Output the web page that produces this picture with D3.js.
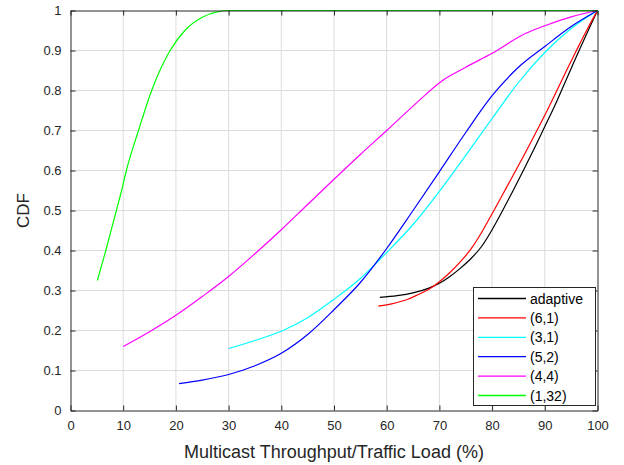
<!DOCTYPE html>
<html><head><meta charset="utf-8">
<script src="https://cdn.jsdelivr.net/npm/d3@7"></script>
<style>body{margin:0;background:#fff}svg{display:block}text{font-family:"Liberation Sans",Arial,sans-serif}</style>
</head><body><svg id="c" width="624" height="465"></svg>
<script>
const xTicks = [0,10,20,30,40,50,60,70,80,90,100];
const yTicks = [0,0.1,0.2,0.3,0.4,0.5,0.6,0.7,0.8,0.9,1];
const seriesNames = ["adaptive","(6,1)","(3,1)","(5,2)","(4,4)","(1,32)"];
const seriesColors = ["#000000","#ff0000","#00ffff","#0000ff","#ff00ff","#00ff00"];
const adaptiveX = [58.7,62,65,68,70,72,74,76,78,80,82,84,86,88,90,92,94,96,98,100];
const adaptiveY = [0.283,0.287,0.294,0.306,0.318,0.335,0.356,0.38,0.41,0.452,0.5,0.55,0.602,0.655,0.71,0.765,0.825,0.885,0.943,1];
const s61X = [58.4,60,62,64,66,68,70,72,74,76,78,80,82,84,86,88,90,92,94,96,98,100];
const s61Y = [0.261,0.264,0.27,0.278,0.29,0.303,0.322,0.345,0.372,0.404,0.445,0.492,0.54,0.588,0.637,0.687,0.738,0.792,0.847,0.9,0.952,1];
const s31X = [30,35,40,45,50,55,60,65,70,75,80,85,90,95,100];
const s31Y = [0.155,0.175,0.198,0.232,0.278,0.33,0.395,0.465,0.548,0.638,0.73,0.82,0.895,0.955,1];
const s52X = [20.6,25,30,35,40,45,50,55,60,65,70,75,80,85,90,95,100];
const s52Y = [0.067,0.076,0.09,0.112,0.143,0.19,0.252,0.32,0.405,0.5,0.597,0.695,0.787,0.858,0.91,0.96,1];
const s44X = [10,15,20,25,30,35,40,45,50,55,60,65,70.6,75,80,86.4,90,95,100];
const s44Y = [0.16,0.197,0.238,0.285,0.335,0.392,0.452,0.515,0.578,0.64,0.70,0.761,0.825,0.858,0.893,0.943,0.962,0.984,1];
const s132X = [5.1,6.7,8.7,9.7,10.6,12.9,15.4,18.9,21.7,25,28,30,100];
const s132Y = [0.325,0.4,0.5,0.55,0.6,0.7,0.8,0.9,0.95,0.983,0.997,1,1];
const seriesX = [adaptiveX,s61X,s31X,s52X,s44X,s132X];
const seriesY = [adaptiveY,s61Y,s31Y,s52Y,s44Y,s132Y];

const svg = d3.select("#c");
const L=70.5,R=597.5,T=10.5,B=410.5;
const x = d3.scaleLinear().domain([0,100]).range([L,R]);
const y = d3.scaleLinear().domain([0,1]).range([B,T]);
const axisCol="#262626", gridCol="#dcdcdc";

// grid
svg.append("g").selectAll("line").data(xTicks.slice(1,-1)).join("line")
  .attr("x1",d=>x(d)).attr("x2",d=>x(d)).attr("y1",T).attr("y2",B)
  .attr("stroke",gridCol).attr("stroke-width",1);
svg.append("g").selectAll("line").data(yTicks.slice(1,-1)).join("line")
  .attr("y1",d=>y(d)).attr("y2",d=>y(d)).attr("x1",L).attr("x2",R)
  .attr("stroke",gridCol).attr("stroke-width",1);

// lines
const line = d3.line().curve(d3.curveMonotoneX);
const g = svg.append("g");
seriesNames.forEach((n,i)=>{
  const pts = seriesX[i].map((v,j)=>[x(v),y(seriesY[i][j])]);
  g.append("path").attr("d",line(pts)).attr("fill","none")
    .attr("stroke",seriesColors[i]).attr("stroke-width",1.2);
});

// axes
const ax = (gen, tr)=>svg.append("g").attr("transform",tr).call(gen)
  .call(s=>{s.select(".domain").attr("stroke",axisCol);
    s.selectAll(".tick line").attr("stroke",axisCol);
    s.selectAll("text").attr("fill",axisCol).style("font-size","13px");});
ax(d3.axisBottom(x).tickValues(xTicks).tickSize(-5).tickPadding(10).tickSizeOuter(0).tickFormat(d3.format("d")), `translate(0,${B})`);
ax(d3.axisLeft(y).tickValues(yTicks).tickSize(-5).tickPadding(9).tickSizeOuter(0).tickFormat(d=>d===0?"0":d===1?"1":d3.format(".1f")(d)), `translate(${L},0)`);
ax(d3.axisTop(x).tickValues(xTicks).tickSize(-5).tickSizeOuter(0).tickFormat(""), `translate(0,${T})`);
ax(d3.axisRight(y).tickValues(yTicks).tickSize(-5).tickSizeOuter(0).tickFormat(""), `translate(${R},0)`);

// labels
svg.append("text").attr("x",(L+R)/2).attr("y",457.5).attr("text-anchor","middle")
  .attr("fill",axisCol).style("font-size","18px").text("Multicast Throughput/Traffic Load (%)");
svg.append("text").attr("transform",`translate(29,${(T+B)/2}) rotate(-90)`).attr("text-anchor","middle")
  .attr("fill",axisCol).style("font-size","17px").text("CDF");

// legend
const lg = svg.append("g");
lg.append("rect").attr("x",473.5).attr("y",287.5).attr("width",122).attr("height",118)
  .attr("fill","#fff").attr("stroke",axisCol).attr("stroke-width",1);
seriesNames.forEach((n,i)=>{
  const yy = 298.5 + i*19.4;
  lg.append("line").attr("x1",478).attr("x2",526).attr("y1",yy).attr("y2",yy)
    .attr("stroke",seriesColors[i]).attr("stroke-width",1.3);
  lg.append("text").attr("x",530).attr("y",yy+5).attr("fill","#000")
    .style("font-size","14px").text(n);
});
</script></body></html>
